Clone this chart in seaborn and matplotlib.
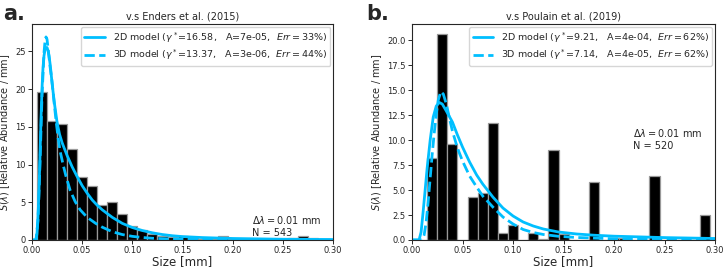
import numpy as np
import pandas as pd
import matplotlib
matplotlib.use("Agg")
import matplotlib.pyplot as plt
import seaborn as sns

# histogram bins (bin centres, mm) and heights
size_a = [0.01, 0.02, 0.03, 0.04, 0.05, 0.06, 0.07, 0.08, 0.09, 0.10,
          0.11, 0.12, 0.13, 0.14, 0.15, 0.16, 0.17, 0.18, 0.19, 0.20,
          0.21, 0.22, 0.23, 0.24, 0.25, 0.26, 0.27, 0.28]
abund_a = [19.6, 15.8, 15.4, 12.1, 8.4, 7.2, 4.6, 5.0, 3.4, 1.85,
           1.28, 0.75, 0.5, 0.35, 0.48, 0.26, 0.18, 0.18, 0.48, 0.12,
           0.1, 0.06, 0.06, 0.06, 0.1, 0.26, 0.48, 0.26]

size_b = [0.02, 0.03, 0.04, 0.06, 0.07, 0.08, 0.09, 0.10, 0.12, 0.13,
          0.14, 0.15, 0.18, 0.20, 0.21, 0.24, 0.29]
abund_b = [8.2, 20.57, 9.6, 4.27, 4.67, 11.75, 0.73, 1.5, 0.7, 0.13,
           9.0, 0.6, 5.84, 0.15, 0.15, 6.44, 2.55]

# model curves
x2d_a = [0.0, 0.004, 0.005, 0.006, 0.007, 0.008, 0.009, 0.010, 0.011, 0.012,
         0.013, 0.014, 0.015, 0.016, 0.017, 0.018, 0.019, 0.020, 0.0225, 0.025,
         0.0275, 0.030, 0.035, 0.040, 0.045, 0.050, 0.055, 0.060, 0.065, 0.070,
         0.080, 0.090, 0.100, 0.110, 0.120, 0.130, 0.140, 0.150, 0.170, 0.200,
         0.250, 0.300]
y2d_a = [0.0, 0.0, 0.8, 3.0, 6.5, 11.0, 16.0, 20.0, 22.8, 24.4,
         25.2, 25.5, 25.5, 25.1, 24.4, 23.4, 22.2, 20.8, 18.0, 15.6,
         14.0, 12.9, 11.2, 9.7, 8.4, 7.2, 6.2, 5.3, 4.6, 4.0,
         3.0, 2.2, 1.65, 1.25, 0.95, 0.72, 0.56, 0.45, 0.32, 0.2,
         0.1, 0.06]

x3d_a = [0.0, 0.004, 0.006, 0.008, 0.010, 0.012, 0.013, 0.014, 0.015, 0.016,
         0.018, 0.020, 0.022, 0.024, 0.026, 0.028, 0.031, 0.034, 0.038, 0.043,
         0.048, 0.055, 0.0635, 0.070, 0.080, 0.090, 0.100, 0.110, 0.120, 0.140,
         0.160, 0.200, 0.300]
y3d_a = [0.0, 0.0, 2.5, 10.0, 19.0, 24.8, 26.3, 26.9, 26.6, 25.5,
         23.0, 21.0, 18.3, 15.8, 13.6, 11.8, 10.0, 8.4, 6.6, 5.1,
         4.0, 3.0, 2.2, 1.7, 1.1, 0.72, 0.48, 0.33, 0.23, 0.12,
         0.07, 0.03, 0.0]

x2d_b = [0.0, 0.007, 0.009, 0.011, 0.013, 0.015, 0.018, 0.021, 0.024, 0.027,
         0.030, 0.034, 0.040, 0.045, 0.050, 0.057, 0.064, 0.070, 0.080, 0.090,
         0.100, 0.110, 0.120, 0.130, 0.145, 0.163, 0.180, 0.200, 0.250, 0.300]
y2d_b = [0.0, 0.0, 0.8, 2.8, 5.0, 7.2, 10.0, 12.3, 13.4, 13.76,
         13.6, 12.9, 11.8, 10.5, 9.3, 7.8, 6.5, 5.6, 4.3, 3.2,
         2.4, 1.8, 1.4, 1.1, 0.8, 0.6, 0.48, 0.38, 0.24, 0.15]

x3d_b = [0.0, 0.010, 0.012, 0.014, 0.016, 0.018, 0.020, 0.022, 0.024, 0.026,
         0.0285, 0.031, 0.034, 0.037, 0.040, 0.045, 0.050, 0.057, 0.064, 0.070,
         0.080, 0.090, 0.100, 0.110, 0.120, 0.130, 0.145, 0.163, 0.200, 0.250,
         0.300]
y3d_b = [0.0, 0.0, 0.5, 1.8, 3.8, 6.2, 8.6, 10.7, 12.6, 14.0,
         14.85, 14.6, 13.6, 12.2, 10.9, 9.2, 7.9, 6.4, 5.3, 4.4,
         3.3, 2.3, 1.6, 1.05, 0.75, 0.55, 0.37, 0.25, 0.12, 0.06,
         0.03]

label2d = [r"2D model ($\gamma^*$=16.58,   A=7e-05,  $Err = 33\%$)",
           r"2D model ($\gamma^*$=9.21,   A=4e-04,  $Err = 62\%$)"]
label3d = [r"3D model ($\gamma^*$=13.37,   A=3e-06,  $Err = 44\%$)",
           r"3D model ($\gamma^*$=7.14,   A=4e-05,  $Err = 62\%$)"]
titles = ["v.s Enders et al. (2015)", "v.s Poulain et al. (2019)"]
counts = [543, 520]
letters = ["a.", "b."]

sns.set_style("ticks")
plt.rcParams["font.family"] = ["DejaVu Sans"]
plt.rcParams["mathtext.fontset"] = "dejavusans"

fig = plt.figure(figsize=(7.26, 2.68), dpi=100)
ax_a = fig.add_axes([0.044, 0.1045, 0.415, 0.8055])
ax_b = fig.add_axes([0.5675, 0.1045, 0.4175, 0.8055])

cyan = "#00BFFF"
panels = [
    (ax_a, size_a, abund_a, x2d_a, y2d_a, x3d_a, y3d_a, 28.6, (0.219, 0.3)),
    (ax_b, size_b, abund_b, x2d_b, y2d_b, x3d_b, y3d_b, 21.6, (0.219, 8.9)),
]

for i, (ax, sz, ab, x2, y2, x3, y3, ytop, txtpos) in enumerate(panels):
    sns.histplot(x=sz, weights=ab, binwidth=0.01, binrange=(0.005, 0.295),
                 color="black", edgecolor="#999999", linewidth=0.9,
                 alpha=1, ax=ax)
    sns.lineplot(x=x2, y=y2, color=cyan, linewidth=2.0, ax=ax,
                 label=label2d[i])
    sns.lineplot(x=x3, y=y3, color=cyan, linewidth=2.0, linestyle="--",
                 ax=ax, label=label3d[i])
    ax.set_xlim(0, 0.30)
    ax.set_ylim(0, ytop)
    ax.set_xticks(np.arange(0, 0.301, 0.05))
    if i == 0:
        ax.set_yticks(np.arange(0, 26, 5))
    else:
        ax.set_yticks(np.arange(0, 20.1, 2.5))
        ax.yaxis.set_major_formatter(matplotlib.ticker.FormatStrFormatter("%.1f"))
    ax.tick_params(labelsize=6, length=3, width=0.7, pad=1.5)
    ax.set_xlabel("Size [mm]", fontsize=8.5, labelpad=0)
    ax.set_ylabel(r"$S(\lambda)$ [Relative Abundance / mm]", fontsize=7,
                  labelpad=2)
    ax.set_title(titles[i], fontsize=7, pad=3)
    for s in ax.spines.values():
        s.set_linewidth(0.8)
    ax.legend(loc="upper right", fontsize=6.8, frameon=True, fancybox=True,
              handlelength=2.2, borderpad=0.35, labelspacing=0.3,
              borderaxespad=0.3)
    ax.text(txtpos[0], txtpos[1],
            r"$\Delta\lambda = 0.01$ mm" + "\nN = %d" % counts[i],
            fontsize=7, va="bottom", ha="left", linespacing=1.2)

fig.text(0.004, 0.985, letters[0], fontsize=15, fontweight="bold",
         va="top", ha="left")
fig.text(0.505, 0.985, letters[1], fontsize=15, fontweight="bold",
         va="top", ha="left")

fig.savefig("out.png", dpi=100)
